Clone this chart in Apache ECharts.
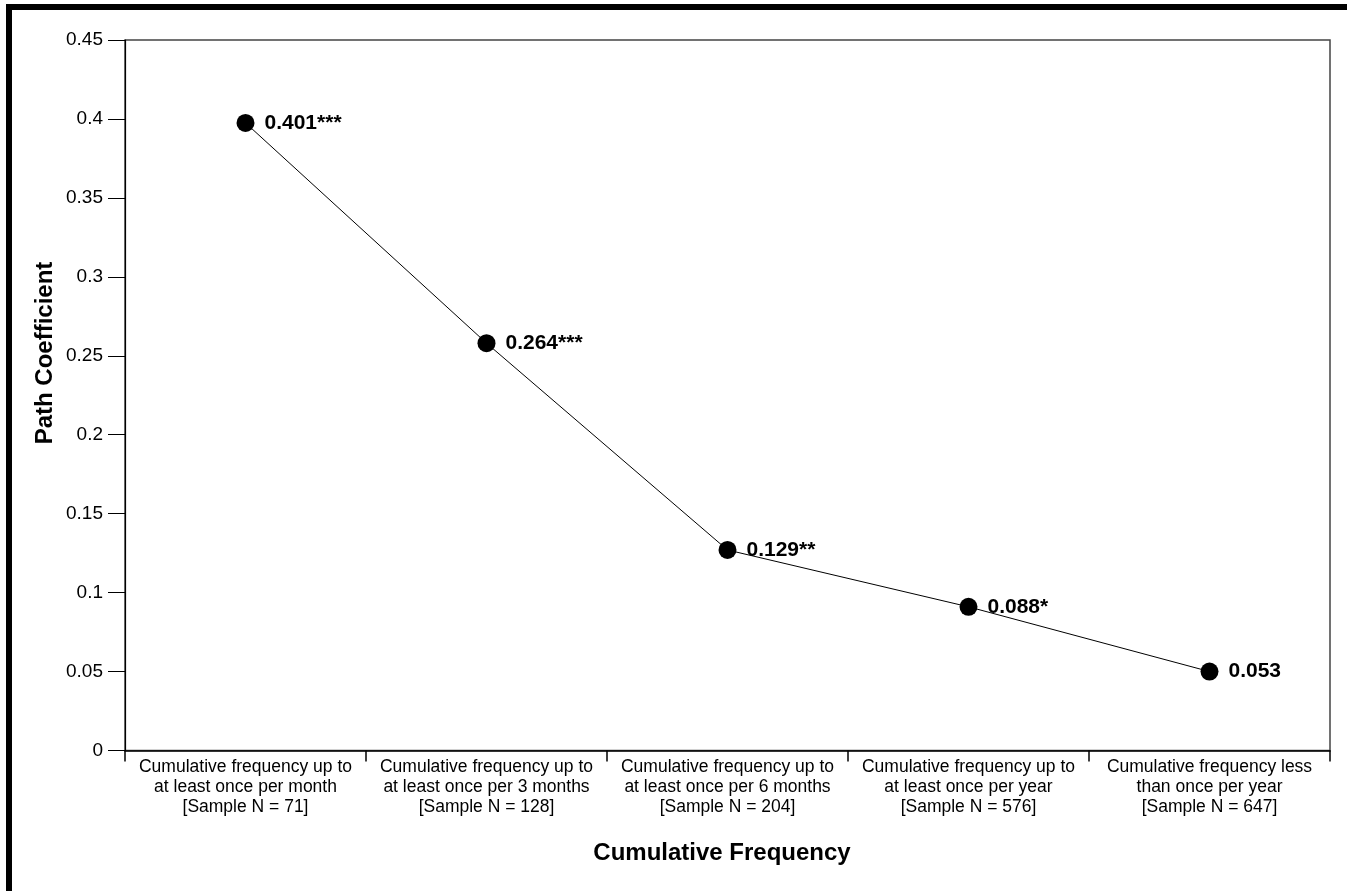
<!DOCTYPE html>
<html>
<head>
<meta charset="utf-8">
<script src="https://cdn.jsdelivr.net/npm/echarts@6/dist/echarts.min.js"></script>
<style>
html,body{margin:0;padding:0;background:#fff;}
#chart{width:1347px;height:891px;}
</style>
</head>
<body>
<div id="chart"></div>
<script>
const categories = [
  'Cumulative frequency up to\nat least once per month\n[Sample N = 71]',
  'Cumulative frequency up to\nat least once per 3 months\n[Sample N = 128]',
  'Cumulative frequency up to\nat least once per 6 months\n[Sample N = 204]',
  'Cumulative frequency up to\nat least once per year\n[Sample N = 576]',
  'Cumulative frequency less\nthan once per year\n[Sample N = 647]'
];
const pathCoefficients = [0.3975, 0.258, 0.127, 0.091, 0.050];
const pointLabels = ['0.401***', '0.264***', '0.129**', '0.088*', '0.053'];
const yAxisName = 'Path Coefficient';
const xAxisName = 'Cumulative Frequency';

const chart = echarts.init(document.getElementById('chart'), null, {renderer: 'canvas'});
const FONT = '"Liberation Sans", Arial, sans-serif';
chart.setOption({
  animation: false,
  backgroundColor: '#ffffff',
  textStyle: {fontFamily: FONT, color: '#000'},
  grid: {left: 125, right: 17, top: 40, bottom: 140.5, show: true, borderColor: '#444', borderWidth: 1.5, backgroundColor: 'transparent'},
  xAxis: {
    type: 'category',
    data: categories,
    boundaryGap: true,
    axisLine: {lineStyle: {color: '#000', width: 1.5}},
    axisTick: {show: true, interval: 0, length: 11, lineStyle: {color: '#000', width: 1.5}},
    axisLabel: {interval: 0, fontSize: 17.5, lineHeight: 20, margin: 7, color: '#000', fontFamily: FONT},
    splitLine: {show: false}
  },
  yAxis: {
    type: 'value',
    min: 0, max: 0.45, interval: 0.05,
    axisLine: {show: true, lineStyle: {color: '#000', width: 1.2}},
    axisTick: {show: true, length: 17, lineStyle: {color: '#000', width: 1}},
    axisLabel: {fontSize: 19, margin: 22, color: '#000', fontFamily: FONT},
    splitLine: {show: false}
  },
  series: [{
    type: 'line',
    data: pathCoefficients.map((v, i) => ({value: v, label: {formatter: pointLabels[i]}})),
    symbol: 'circle',
    symbolSize: 18,
    lineStyle: {color: '#000', width: 1},
    itemStyle: {color: '#000'},
    label: {show: true, position: 'right', distance: 10, fontSize: 21, fontWeight: 'bold', color: '#000', fontFamily: FONT}
  }],
  graphic: [
    {type: 'rect', shape: {x: 6, y: 4, width: 1341, height: 6}, style: {fill: '#000'}, silent: true},
    {type: 'rect', shape: {x: 6, y: 4, width: 6, height: 887}, style: {fill: '#000'}, silent: true},
    {type: 'text', x: 45, y: 353, rotation: Math.PI / 2,
      style: {text: yAxisName, font: 'bold 24px ' + FONT, fill: '#000', textAlign: 'center', textVerticalAlign: 'middle'}},
    {type: 'text', x: 722, y: 853,
      style: {text: xAxisName, font: 'bold 24px ' + FONT, fill: '#000', textAlign: 'center', textVerticalAlign: 'middle'}}
  ]
});
</script>
</body>
</html>
